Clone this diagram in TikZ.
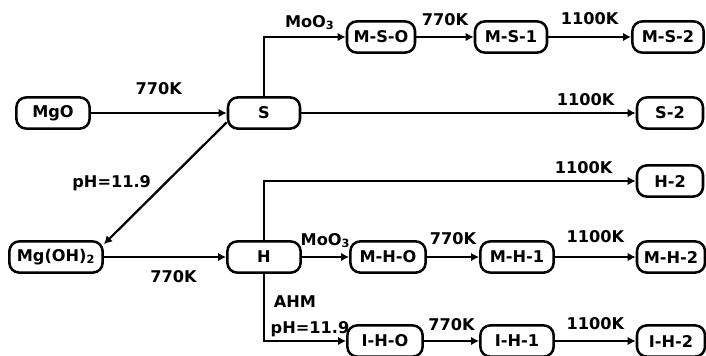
\documentclass[tikz,border=0pt]{standalone}
\usepackage{fontspec}
\setmainfont{DejaVu Sans}
\usepackage{tikz}
\usetikzlibrary{arrows.meta, positioning}
\tikzset{
    amostra/.style = {draw, line width=1.8pt, rounded corners=7pt, minimum height=0.78cm,
                      minimum width=1.8cm, inner sep=2pt},
    seta/.style    = {-{Latex[length=2mm, width=2.1mm]}, line width=1.6pt},
    rot/.style     = {inner sep=0pt},
}

\begin{document}
\begin{tikzpicture}[x=0.025cm, y=-0.025cm, font=\fontsize{11.5}{13}\selectfont\bfseries]
        \useasboundingbox (0,0) rectangle (706,356);
        % amostras de partida
        \node[amostra, minimum width=1.83cm] (mgo)  at (53,113)  {MgO};
        \node[amostra, minimum width=2.33cm] (mgoh) at (56,257)  {Mg(OH)\textsubscript{2}};
        \node[amostra]                       (s)    at (264,113) {S};
        \node[amostra, minimum width=1.83cm] (h)    at (264,257) {H};
        % ramo do S
        \node[amostra, minimum width=1.7cm]  (mso)  at (381,37)  {M-S-O};
        \node[amostra]                       (ms1)  at (511,37)  {M-S-1};
        \node[amostra, minimum width=1.78cm] (ms2)  at (668,37)  {M-S-2};
        \node[amostra, minimum width=1.65cm] (s2)   at (670,113) {S-2};
        % ramo do H
        \node[amostra, minimum width=1.65cm] (h2)   at (670,181) {H-2};
        \node[amostra, minimum width=1.88cm] (mho)  at (388,257) {M-H-O};
        \node[amostra, minimum width=1.83cm] (mh1)  at (517,257) {M-H-1};
        \node[amostra, minimum width=1.7cm]  (mh2)  at (671,257) {M-H-2};
        \node[amostra, minimum width=1.88cm] (iho)  at (385,341) {I-H-O};
        \node[amostra, minimum width=1.83cm] (ih1)  at (517,341) {I-H-1};
        \node[amostra, minimum width=1.7cm]  (ih2)  at (671,341) {I-H-2};
        % ligacoes
        \draw[seta] (mgo) -- node[rot, above=0.42cm] (t1) {770K} (s);
        \draw[seta] (s.north) |- node[rot, pos=0.78, above=0.15cm] (t2) {MoO\textsubscript{3}} (mso);
        \draw[seta] (mso) -- node[rot, above=0.25cm] (t3) {770K} (ms1);
        \draw[seta] (ms1) -- node[rot, above=0.27cm] (t4) {1100K} (ms2);
        \draw[seta] (s) -- node[rot, pos=0.85, above=0.15cm] (t5) {1100K} (s2);
        \draw[seta] (s.194) -- node[rot, left=0.33cm] (t6) {pH=11.9} (mgoh.15);
        \draw[seta] (mgoh) -- node[rot, pos=0.57, below=0.3cm] (t7) {770K} (h);
        \draw[seta] (h.north) |- node[rot, pos=0.93, above=0.15cm] (t8) {1100K} (h2);
        \draw[seta] (h) -- node[rot, above=0.2cm] (t9) {MoO\textsubscript{3}} (mho);
        \draw[seta] (mho) -- node[rot, above=0.27cm] (t10) {770K} (mh1);
        \draw[seta] (mh1) -- node[rot, above=0.32cm] (t11) {1100K} (mh2);
        \draw[seta] (h.south) |- node[rot, pos=0.21, right=0.22cm] (t12) {AHM}
            node[rot, pos=0.78, above=0.08cm] (t13) {pH=11.9} (iho);
        \draw[seta] (iho) -- node[rot, above=0.22cm] (t14) {770K} (ih1);
        \draw[seta] (ih1) -- node[rot, above=0.25cm] (t15) {1100K} (ih2);
    \end{tikzpicture}
\end{document}
